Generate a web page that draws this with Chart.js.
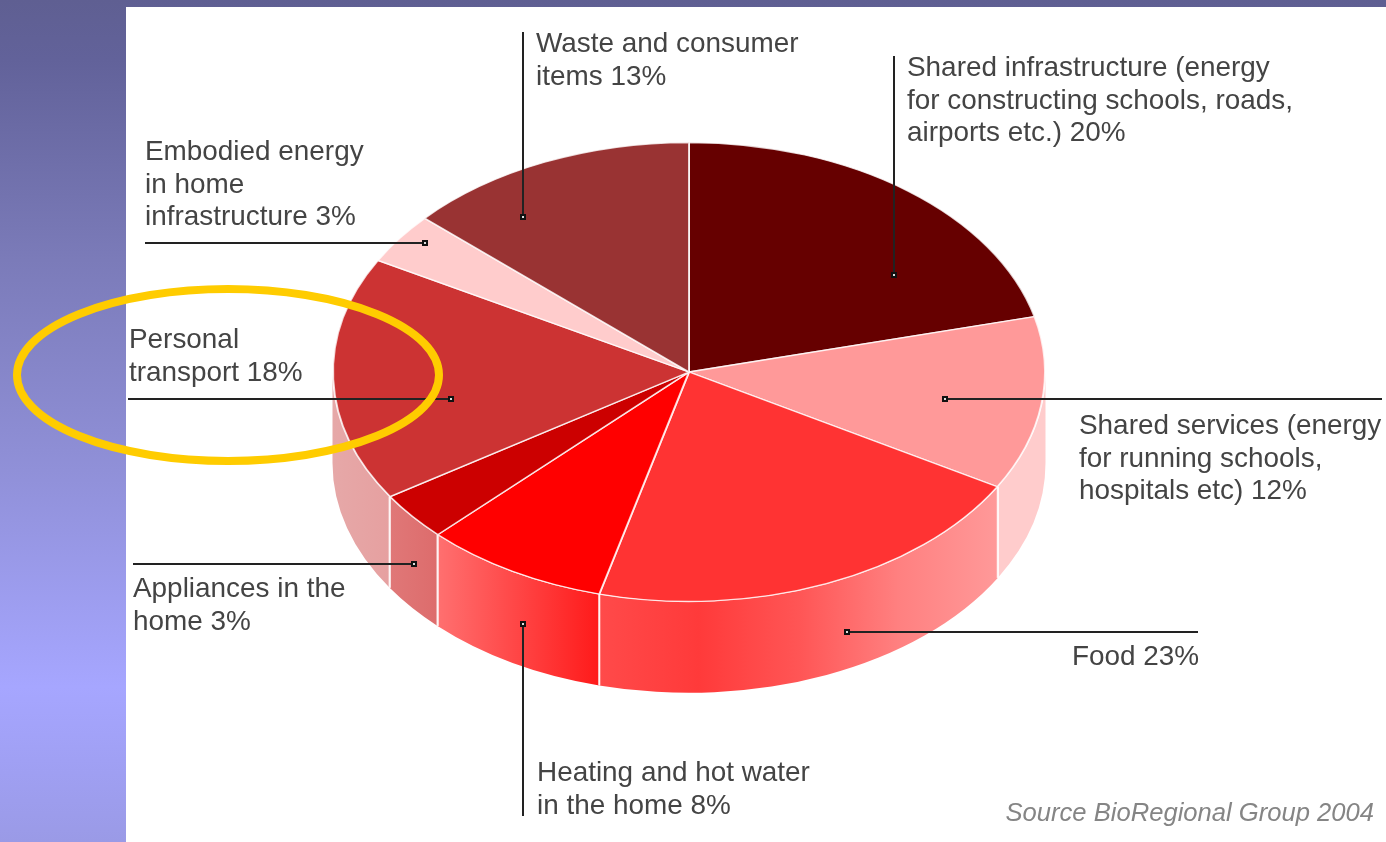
<!DOCTYPE html>
<html>
<head>
<meta charset="utf-8">
<title>Energy footprint</title>
<script src="https://cdn.jsdelivr.net/npm/chart.js@4"></script>
<style>
  html, body { margin: 0; padding: 0; width: 1386px; height: 842px; overflow: hidden; }
  body {
    position: relative;
    background: linear-gradient(to bottom, #5f5f92 0px, #62629a 60px, #7b7bb9 260px, #9090d8 470px, #a6a6ff 687px, #a0a0f4 760px, #9a9ae6 842px);
  }
  #panel { position: absolute; left: 126px; top: 7px; width: 1260px; height: 835px; background: #fff; }
  #wrap { position: absolute; left: 0; top: 0; width: 1386px; height: 842px; }
  .label {
    position: absolute;
    font-family: "Liberation Sans", Arial, sans-serif;
    font-size: 27.9px;
    line-height: 32.5px;
    color: #444;
    white-space: pre;
    filter: blur(0.5px);
  }
  .source { font-size: 25.6px; font-style: italic; color: #858585; }
</style>
</head>
<body>
<div id="panel"></div>
<div id="wrap"><canvas id="pieChart" width="1386" height="842"></canvas></div>
<script>
const categories = [
  'Shared infrastructure', 'Shared services', 'Food', 'Heating and hot water',
  'Appliances', 'Personal transport', 'Embodied energy', 'Waste and consumer items',
];
// Slice sizes as drawn in the picture (they differ a little from the printed percentages)
const sliceShares = [21.1, 12.2, 20.7, 8.4, 3.4, 17.2, 3.6, 13.3];
const sliceColors = ['#660000', '#ff9999', '#ff3333', '#ff0000', '#cc0000', '#cc3333', '#ffcccc', '#993333'];
// Side wall colours, left to right as seen on screen
const wallColors = [
  null,
  ['#ffcccc', '#ffcccc'],
  ['#ff4a4a', '#ff3a3a', '#ff5555', '#ff8080', '#ff9999'],
  ['#ff7070', '#ff1a1a'],
  ['#e07878', '#dd6c6c'],
  ['#e6a8a8', '#e6a0a0'],
  null,
  null,
];

const labelTexts = [
  'Shared infrastructure (energy\nfor constructing schools, roads,\nairports etc.) 20%',
  'Shared services (energy\nfor running schools,\nhospitals etc) 12%',
  'Food 23%',
  'Heating and hot water\nin the home 8%',
  'Appliances in the\nhome 3%',
  'Personal\ntransport 18%',
  'Embodied energy\nin home\ninfrastructure 3%',
  'Waste and consumer\nitems 13%',
];
const sourceText = 'Source BioRegional Group 2004';

const labelSpots = [[907, 51], [1079, 409], [1072, 640], [537, 756], [133, 572], [129, 323], [145, 135], [536, 27]];
const leaders = [
  [894, 56, 894, 275],
  [1382, 399, 945, 399],
  [1198, 632, 847, 632],
  [523, 816, 523, 624],
  [133, 564, 414, 564],
  [128, 399, 451, 399],
  [145, 243, 425, 243],
  [523, 32, 523, 217],
];

const tiltRatio = 229.5 / 356;
const wallDepth = 91;

labelTexts.forEach((text, i) => {
  const el = document.createElement('div');
  el.className = 'label';
  el.style.left = labelSpots[i][0] + 'px';
  el.style.top = labelSpots[i][1] + 'px';
  el.textContent = text;
  document.body.appendChild(el);
});
const src = document.createElement('div');
src.className = 'label source';
src.style.right = '12px';
src.style.top = '796px';
src.textContent = sourceText;
document.body.appendChild(src);

// Draws the side wall under the front half of the pie, from the arc elements
const wallPlugin = {
  id: 'wall',
  beforeDatasetsDraw(chart) {
    const ctx = chart.ctx;
    chart.getDatasetMeta(0).data.forEach((arc, i) => {
      const { x, y, outerRadius, startAngle, endAngle } = arc.getProps(['x', 'y', 'outerRadius', 'startAngle', 'endAngle']);
      const rx = outerRadius + 0.5;
      const ry = rx * tiltRatio;
      const from = Math.max(startAngle, 0);
      const to = Math.min(endAngle, Math.PI);
      if (!wallColors[i] || to <= from) return;

      const xa = x + rx * Math.cos(from);
      const xb = x + rx * Math.cos(to);
      const grad = ctx.createLinearGradient(Math.min(xa, xb), 0, Math.max(xa, xb), 0);
      wallColors[i].forEach((c, n) => grad.addColorStop(n / (wallColors[i].length - 1), c));

      ctx.save();
      ctx.beginPath();
      ctx.ellipse(x, y, rx, ry, 0, from, to);
      ctx.ellipse(x, y + wallDepth, rx, ry, 0, to, from, true);
      ctx.closePath();
      ctx.fillStyle = grad;
      ctx.fill();
      // seam between wall sections
      ctx.strokeStyle = 'rgba(255,255,255,0.85)';
      ctx.lineWidth = 2;
      [from, to].forEach(a => {
        if (a <= 0.01 || a >= Math.PI - 0.01) return;
        const sx = x + rx * Math.cos(a);
        const sy = y + ry * Math.sin(a);
        ctx.beginPath();
        ctx.moveTo(sx, sy);
        ctx.lineTo(sx, sy + wallDepth);
        ctx.stroke();
      });
      ctx.restore();
    });
    // squash the flat pie into the tilted ellipse
    const first = chart.getDatasetMeta(0).data[0];
    ctx.save();
    ctx.translate(0, first.y);
    ctx.scale(1, tiltRatio);
    ctx.translate(0, -first.y);
  },
  afterDatasetsDraw(chart) {
    chart.ctx.restore();
  },
};

const leaderPlugin = {
  id: 'leaders',
  afterDraw(chart) {
    const ctx = chart.ctx;
    ctx.save();
    ctx.strokeStyle = '#222';
    ctx.lineWidth = 2;
    leaders.forEach(([x1, y1, x2, y2]) => {
      ctx.beginPath();
      ctx.moveTo(x1, y1);
      ctx.lineTo(x2, y2);
      ctx.stroke();
      // end marker: dark square with a light centre
      ctx.fillStyle = '#111';
      ctx.fillRect(x2 - 3, y2 - 3, 6, 6);
      ctx.fillStyle = '#ddd';
      ctx.fillRect(x2 - 1, y2 - 1, 2, 2);
    });
    // yellow highlight ring around the personal transport label
    ctx.strokeStyle = '#ffcc00';
    ctx.lineWidth = 8;
    ctx.beginPath();
    ctx.ellipse(228, 375, 211, 86, 0, 0, Math.PI * 2);
    ctx.stroke();
    ctx.restore();
  },
};

new Chart(document.getElementById('pieChart').getContext('2d'), {
  type: 'pie',
  data: {
    labels: categories,
    datasets: [
      {
        data: sliceShares,
        backgroundColor: sliceColors,
        borderColor: 'rgba(255,255,255,0.8)',
        borderWidth: 2,
        clip: false,
      },
    ],
  },
  options: {
    responsive: false,
    animation: false,
    layout: { padding: { left: 332, right: 340, top: 15, bottom: 113 } },
    plugins: { legend: { display: false }, tooltip: { enabled: false } },
  },
  plugins: [wallPlugin, leaderPlugin],
});
</script>
</body>
</html>
